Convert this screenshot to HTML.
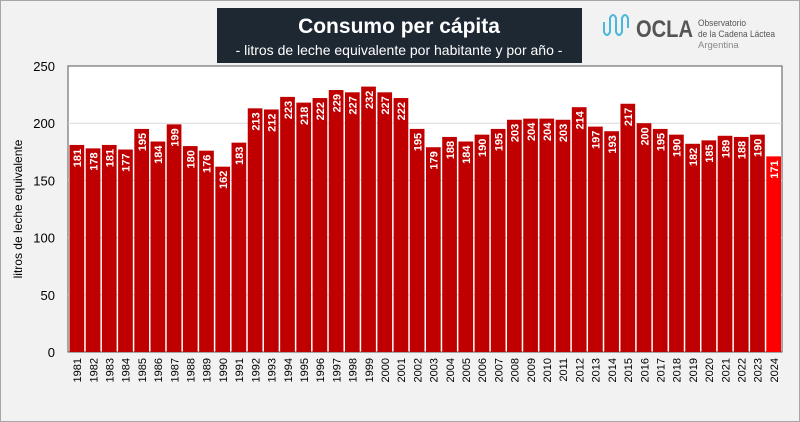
<!DOCTYPE html>
<html><head><meta charset="utf-8"><style>
body{margin:0;width:800px;height:422px;background:#f2f2f2;font-family:"Liberation Sans",sans-serif;overflow:hidden}
#frame{position:absolute;left:0;top:0;width:798px;height:420px;border:1px solid #a6a6a6}
</style></head><body>
<div id="frame"></div>
<svg id="c" width="800" height="422" style="position:absolute;left:0;top:0">
<rect x="217" y="8" width="365" height="55" fill="#1e2833"/>
<text x="399" y="33" text-anchor="middle" fill="#fff" font-size="21" font-weight="bold">Consumo per cápita</text>
<text x="399" y="55" text-anchor="middle" fill="#fff" font-size="14">- litros de leche equivalente por habitante y por año -</text>
<g>
<path d="M604 22 v10 q3 6 6 0 v-14 q3-6 6 0 v14 q3 6 6 0 v-14 q3-6 6 0 v10" fill="none" stroke="#4ab8dc" stroke-width="2"/>
<text x="636" y="37" font-size="24" font-weight="bold" fill="#555" textLength="57" lengthAdjust="spacingAndGlyphs">OCLA</text>
<text x="698" y="26" font-size="9.5" fill="#555" textLength="48" lengthAdjust="spacingAndGlyphs">Observatorio</text>
<text x="698" y="37" font-size="9.5" fill="#555" textLength="77" lengthAdjust="spacingAndGlyphs">de la Cadena Láctea</text>
<text x="698" y="48" font-size="9.5" fill="#888">Argentina</text>
</g>
<rect x="68" y="66" width="714" height="286" fill="#fff" stroke="#555" stroke-width="1"/>
<g id="grid"></g><g id="bars"></g><g id="labels"></g>
<text transform="translate(22,209) rotate(-90)" text-anchor="middle" font-size="12" fill="#000">litros de leche equivalente</text>
</svg>
<script>
const years=[1981,1982,1983,1984,1985,1986,1987,1988,1989,1990,1991,1992,1993,1994,1995,1996,1997,1998,1999,2000,2001,2002,2003,2004,2005,2006,2007,2008,2009,2010,2011,2012,2013,2014,2015,2016,2017,2018,2019,2020,2021,2022,2023,2024];
const values=[181,178,181,177,195,184,199,180,176,162,183,213,212,223,218,222,229,227,232,227,222,195,179,188,184,190,195,203,204,204,203,214,197,193,217,200,195,190,182,185,189,188,190,171];
const yTicks=[0,50,100,150,200,250];
const NS="http://www.w3.org/2000/svg";
const x0=69,x1=782,yb=352,yt=66,ymax=250;
const bw=(x1-x0)/years.length;
const y=v=>yb-(v/ymax)*(yb-yt);
const xs=i=>x0+i*bw;
function mk(t,a){const e=document.createElementNS(NS,t);for(const k in a)e.setAttribute(k,a[k]);return e;}
const grid=document.getElementById('grid'),bars=document.getElementById('bars'),labels=document.getElementById('labels'),svg=document.getElementById('c');
yTicks.forEach(t=>{
 if(t>0&&t<250){const l=mk('line',{x1:68,x2:782,y1:y(t),y2:y(t),stroke:'#d9d9d9'});
 
 grid.appendChild(l);}
 const tx=mk('text',{x:55,y:y(t)+5,'text-anchor':'end','font-size':13,fill:'#000'});tx.textContent=t;
 
 svg.appendChild(tx);
});
years.forEach((yr,i)=>{
 const last=i===years.length-1;
 const r=mk('rect',{x:xs(i)+0.5,y:y(values[i]),width:bw-1.5,height:yb-y(values[i]),fill:last?'#ff0000':'#c00000'});
 
 bars.appendChild(r);
 const cx=xs(i)+bw/2;
 const v=mk('text',{transform:`translate(${cx+4},${y(values[i])+4}) rotate(-90)`,'text-anchor':'end','font-size':11,'font-weight':'bold',fill:'#fff'});
 v.textContent=values[i];
 
 labels.appendChild(v);
 const xl=mk('text',{transform:`translate(${cx+4},${358}) rotate(-90)`,'text-anchor':'end','font-size':11,fill:'#000'});
 xl.textContent=yr;
 
 labels.appendChild(xl);
});
</script>
</body></html>
